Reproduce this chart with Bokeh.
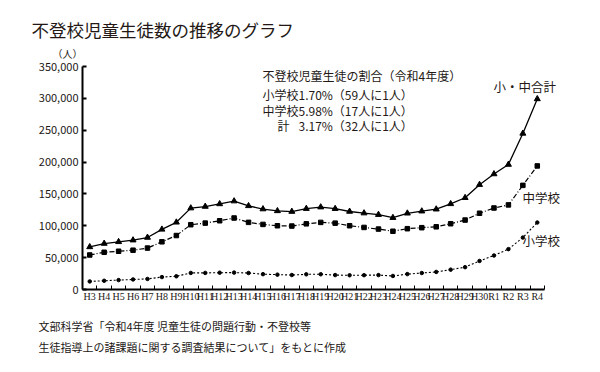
from bokeh.plotting import figure
from bokeh.models import Label, FixedTicker, NumeralTickFormatter, Range1d, ColumnDataSource, Title
from bokeh.embed import file_html
from bokeh.resources import INLINE

years = ["H3", "H4", "H5", "H6", "H7", "H8", "H9", "H10", "H11", "H12", "H13", "H14",
         "H15", "H16", "H17", "H18", "H19", "H20", "H21", "H22", "H23", "H24", "H25",
         "H26", "H27", "H28", "H29", "H30", "R1", "R2", "R3", "R4"]
elementary = [12645, 13710, 14769, 15786, 16569, 19498, 20765, 26017, 26047, 26373, 26511,
              25869, 24077, 23318, 22709, 23825, 23927, 22652, 22327, 22463, 22622, 21243,
              24175, 25864, 27583, 31151, 35032, 44841, 53350, 63350, 81498, 105112]
junior = [54172, 58421, 60039, 61663, 65022, 74853, 84701, 101675, 104180, 107913, 112211,
          105383, 102149, 100040, 99578, 103069, 105328, 104153, 100105, 97428, 94836, 91446,
          95442, 97033, 98408, 103235, 108999, 119687, 127922, 132777, 163442, 193936]
total = [66817, 72131, 74808, 77449, 81591, 94351, 105466, 127692, 130227, 134286, 138722,
         131252, 126226, 123358, 122287, 126894, 129255, 126805, 122432, 119891, 117458, 112689,
         119617, 122897, 125991, 134386, 144031, 164528, 181272, 196127, 244940, 299048]
y_ticks = [0, 50000, 100000, 150000, 200000, 250000, 300000, 350000]
y_max = 350000

TXT = "#231815"
JP = "Noto Sans CJK JP"

n = len(years)
xs = [i + 0.5 for i in range(n)]
src = ColumnDataSource(dict(x=xs, elem=elementary, jun=junior, tot=total))

W, H = 600, 372
FL, FR, FT, FB = 82, 544, 66, 289   # axis extents in page pixels
FRX = 576                           # frame right edge (extended for labels)
x_end = n * (FRX - FL) / (FR - FL)

p = figure(width=W, height=H, output_backend="svg", toolbar_location=None, title=None,
           x_range=Range1d(0, x_end), y_range=Range1d(0, y_max),
           min_border_left=FL, min_border_right=W - FRX,
           min_border_top=FT, min_border_bottom=H - FB)
p.outline_line_color = None
p.grid.visible = False
p.background_fill_color = "white"
p.border_fill_color = "white"

# lines
p.line("x", "tot", source=src, line_color="black", line_width=1.3)
p.scatter("x", "tot", source=src, marker="triangle", size=6, fill_color="black", line_color="black")
p.line("x", "jun", source=src, line_color="black", line_width=1.2, line_dash="5 2 1 2")
p.scatter("x", "jun", source=src, marker="square", size=4.5, fill_color="black", line_color="black")
p.line("x", "elem", source=src, line_color="black", line_width=1.1, line_dash="2 2")
p.scatter("x", "elem", source=src, marker="circle", size=3.5, fill_color="black", line_color="black")

# axes
xa = p.xaxis[0]
xa.bounds = (0, n)
xa.ticker = FixedTicker(ticks=xs, minor_ticks=list(range(n + 1)))
xa.major_label_overrides = {x: y for x, y in zip(xs, years)}
xa.major_tick_in = 0
xa.major_tick_out = 0
xa.minor_tick_in = 4
xa.minor_tick_out = 0
xa.minor_tick_line_color = "black"
xa.axis_line_width = 2
xa.axis_line_color = "black"
xa.major_label_standoff = 1
xa.major_label_text_font = "Liberation Sans Narrow"
xa.major_label_text_font_size = "10px"
xa.major_label_text_color = TXT

ya = p.yaxis[0]
ya.ticker = FixedTicker(ticks=y_ticks)
ya.formatter = NumeralTickFormatter(format="0,0")
ya.major_tick_in = 4
ya.major_tick_out = 0
ya.minor_tick_line_color = None
ya.axis_line_width = 2
ya.axis_line_color = "black"
ya.major_tick_line_width = 2
ya.major_label_standoff = 4
ya.major_label_text_font = JP
ya.major_label_text_font_size = "11px"
ya.major_label_text_color = TXT


def dx(xp):
    return (xp - FL) / (FR - FL) * n


def dy(yp):
    return (FB - yp) / (FB - FT) * y_max


def add_text(text, xp, yp, size, align="left"):
    p.add_layout(Label(x=dx(xp), y=dy(yp), text=text, text_font=JP, text_font_size=size,
                       text_color=TXT, text_baseline="middle", text_align=align))


def add_title(text, side, xp, size, standoff):
    p.add_layout(Title(text=text, align="left", offset=xp - FL, text_font=JP,
                       text_font_size=size, text_font_style="normal", text_color=TXT,
                       standoff=standoff), side)


# titles above (first added is nearest the frame)
add_title("（人）", "above", 52, "10px", 11)
add_title("不登校児童生徒数の推移のグラフ", "above", 31, "17.5px", -6)
# notes below (after the x axis)
add_title("文部科学省「令和4年度  児童生徒の問題行動・不登校等", "below", 38, "11px", 22)
add_title("生徒指導上の諸課題に関する調査結果について」をもとに作成", "below", 38, "11px", -20)

add_text("不登校児童生徒の割合（令和4年度）", 262, 75, "12px")
add_text("小学校1.70%（59人に1人）", 262, 94, "12px")
add_text("中学校5.98%（17人に1人）", 262, 110, "12px")
add_text("計", 277, 125, "12px")
add_text("3.17%（32人に1人）", 298, 125, "12px")
add_text("小・中合計", 493, 86, "12.5px")
add_text("中学校", 522, 197, "12.5px")
add_text("小学校", 522, 240, "12.5px")

open("out.html", "w").write(file_html(p, INLINE))
